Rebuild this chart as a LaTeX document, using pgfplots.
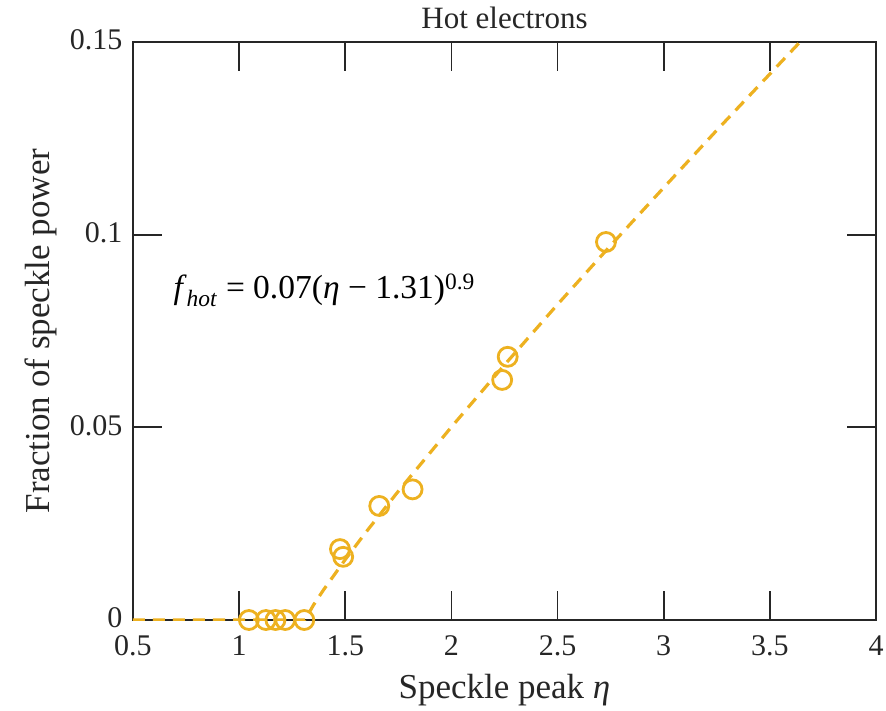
\documentclass[border=0pt]{standalone}
\usepackage{pgfplots}
\pgfplotsset{compat=1.18}
\usepackage{fontspec}
\setmainfont{Liberation Serif}
\definecolor{mgold}{HTML}{EDB120}
\definecolor{mgray}{HTML}{262626}
\begin{document}
\begin{tikzpicture}
\path[use as bounding box] (-133pt,-90pt) rectangle (753pt,620pt);
\begin{axis}[
  scale only axis,
  width=743pt, height=578pt,
  xmin=0.5, xmax=4, ymin=0, ymax=0.15,
  xtick={0.5,1,1.5,2,2.5,3,3.5,4},
  xticklabels={0.5,1,1.5,2,2.5,3,3.5,4},
  ytick={0,0.05,0.1,0.15},
  yticklabels={0,0.05,0.1,0.15},
  tick pos=both, tick align=inside,
  major tick length=29pt,
  axis line style={mgray, line width=1.8pt},
  every tick/.style={mgray, line width=1.8pt},
  tick label style={font=\fontsize{30}{30}\selectfont, text=mgray},
  xticklabel style={yshift=-12pt},
  yticklabel style={xshift=-7pt, yshift=2pt},
  xlabel={Speckle peak \textit{η}},
  ylabel={Fraction of speckle power},
  label style={font=\fontsize{35}{35}\selectfont, text=mgray},
  xlabel style={yshift=-11pt},
  ylabel style={yshift=6pt},
  title={Hot electrons},
  title style={font=\fontsize{31}{31}\selectfont, text=mgray, yshift=4pt},
  clip=true,
]
\addplot[mgold, line width=3.2pt, dash pattern=on 12pt off 8pt] coordinates {
 (0.5,0) (1.31,0)
 (1.35,0.00387) (1.4,0.00801) (1.5,0.0157) (1.6,0.02298) (1.75,0.03343)
 (2.0,0.0501) (2.25,0.0662) (2.5,0.0819) (2.75,0.0972) (3.0,0.1122)
 (3.25,0.1271) (3.5,0.1417) (3.643,0.15005)
};
\addplot[only marks, mark=o, mark size=9.5pt, mgold, mark options={line width=2.8pt}] coordinates {
 (1.046,0) (1.126,0) (1.171,0) (1.217,0) (1.307,0)
 (1.475,0.0184) (1.49,0.0164) (1.66,0.0296) (1.817,0.0339)
 (2.239,0.0623) (2.265,0.0683) (2.728,0.0981)
};
\node[anchor=west, font=\fontsize{33.5}{33.5}\selectfont, text=black, inner sep=0pt] at (axis cs:0.69,0.0855) {\textit{f}\textsubscript{\textit{hot}} = 0.07(\textit{η} − 1.31)\textsuperscript{0.9}};
\end{axis}
\end{tikzpicture}
\end{document}
